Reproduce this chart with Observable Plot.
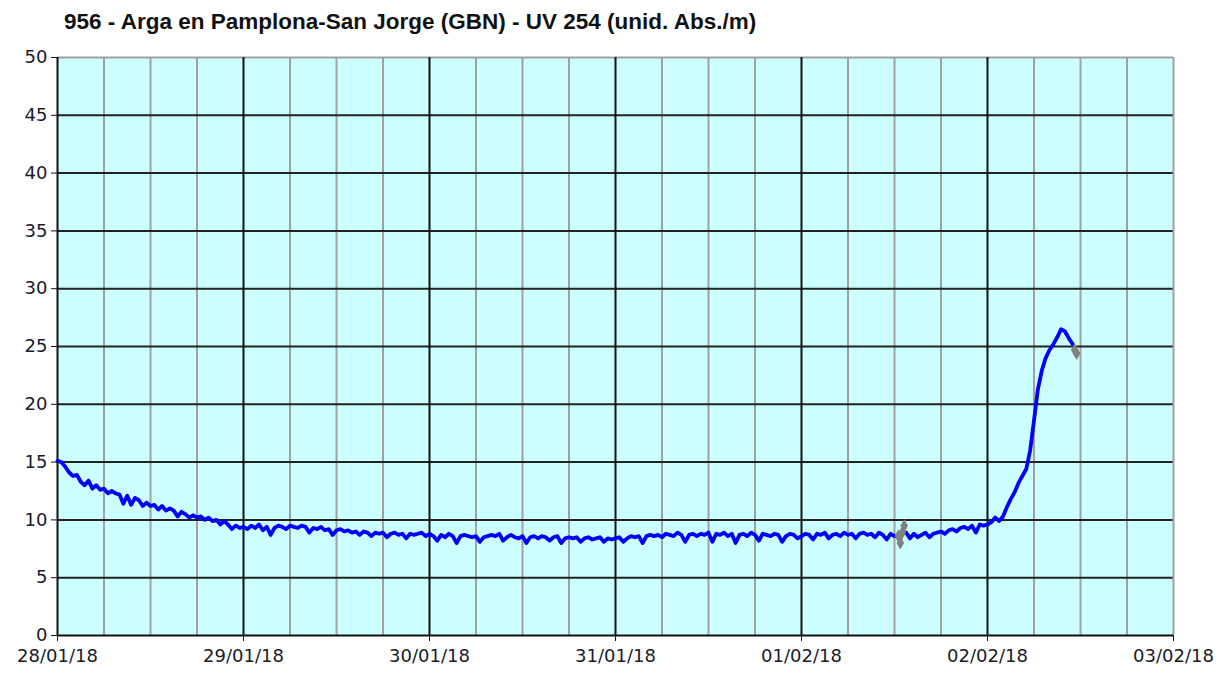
<!DOCTYPE html>
<html>
<head>
<meta charset="utf-8">
<script src="https://cdn.jsdelivr.net/npm/d3@7"></script>
<script src="https://cdn.jsdelivr.net/npm/@observablehq/plot@0.6"></script>
<style>
  html, body { margin: 0; padding: 0; background: #fff; }
  #title { height: 44px; line-height: 44px; padding-left: 64px; font-family: "Liberation Sans", Arial, sans-serif; font-weight: bold; font-size: 22.5px; color: #111; white-space: nowrap; }
</style>
</head>
<body>
<div id="title">956 - Arga en Pamplona-San Jorge (GBN) - UV 254 (unid. Abs./m)</div>
<div id="chart"></div>
<script>
// Values every 30 minutes, starting 28/01/18 00:00 (null = no valid reading)
const day28 = [15.1, 15.0, 14.6, 14.1, 13.8, 13.9, 13.3, 13.0, 13.4, 12.7, 13.0, 12.6, 12.7, 12.3, 12.5, 12.3,
  12.2, 11.4, 12.1, 11.3, 11.9, 11.7, 11.2, 11.5, 11.2, 11.3, 10.9, 11.2, 10.8, 11.0, 10.8, 10.3,
  10.7, 10.5, 10.2, 10.4, 10.2, 10.3, 10.0, 10.2, 9.9, 10.0, 9.6, 9.9, 9.6, 9.2, 9.5, 9.3];
const day29 = [9.4, 9.2, 9.5, 9.3, 9.6, 9.1, 9.4, 8.7, 9.3, 9.5, 9.4, 9.2, 9.5, 9.4, 9.3, 9.5,
  9.4, 8.9, 9.3, 9.2, 9.4, 9.1, 9.2, 8.7, 9.1, 9.2, 9.0, 9.1, 8.9, 9.0, 8.7, 9.0,
  8.9, 8.6, 8.9, 8.8, 8.9, 8.5, 8.8, 8.9, 8.7, 8.8, 8.4, 8.8, 8.7, 8.8, 8.9, 8.6];
const day30 = [8.8, 8.6, 8.2, 8.7, 8.5, 8.8, 8.6, 8.0, 8.6, 8.7, 8.6, 8.5, 8.6, 8.1, 8.5, 8.6,
  8.7, 8.6, 8.8, 8.2, 8.5, 8.7, 8.5, 8.4, 8.6, 8.0, 8.5, 8.6, 8.4, 8.6, 8.5, 8.2,
  8.5, 8.6, 8.0, 8.4, 8.5, 8.4, 8.5, 8.1, 8.4, 8.5, 8.3, 8.4, 8.5, 8.1, 8.4, 8.3];
const day31 = [8.4, 8.5, 8.1, 8.4, 8.6, 8.5, 8.6, 8.0, 8.6, 8.7, 8.6, 8.7, 8.5, 8.8, 8.7, 8.6,
  8.9, 8.7, 8.1, 8.7, 8.8, 8.6, 8.8, 8.7, 8.9, 8.1, 8.8, 8.7, 8.9, 8.6, 8.8, 8.0,
  8.7, 8.8, 8.6, 8.9, 8.7, 8.2, 8.8, 8.7, 8.6, 8.8, 8.7, 8.1, 8.6, 8.8, 8.7, 8.4];
const day01 = [8.6, 8.8, 8.7, 8.3, 8.8, 8.7, 8.9, 8.4, 8.7, 8.8, 8.6, 8.9, 8.7, 8.8, 8.4, 8.8,
  8.9, 8.7, 8.8, 8.5, 8.9, 8.7, 8.3, 8.8, 8.6, 8.6, null, 8.9, 8.4, 8.8, 8.5, 8.7,
  8.9, 8.5, 8.8, 8.9, 9.0, 8.8, 9.1, 9.2, 9.0, 9.3, 9.4, 9.2, 9.5, 8.9, 9.6, 9.5];
const day02 = [9.6, 9.8, 10.2, 9.9, 10.3, 11.1, 11.8, 12.4, 13.2, 13.8, 14.4, 16.0, 18.6, 21.3, 22.9, 24.0,
  24.7, 25.2, 25.8, 26.5, 26.3, 25.7, 25.2];

// Readings flagged (grey markers)
const flaggedTimes = ["2018-02-01T12:30Z", "2018-02-01T12:45Z", "2018-02-01T13:00Z", "2018-02-01T13:15Z",
  "2018-02-02T11:15Z", "2018-02-02T11:30Z"];
const flaggedValues = [8.6, 8.0, 8.9, 9.5, 24.7, 24.4];
const flaggedGroup = [1, 1, 1, 1, 2, 2];

const dayTicks = ["2018-01-28", "2018-01-29", "2018-01-30", "2018-01-31", "2018-02-01", "2018-02-02", "2018-02-03"];
const yTicks = [0, 5, 10, 15, 20, 25, 30, 35, 40, 45, 50];

const start = Date.UTC(2018, 0, 28);
const values = [...day28, ...day29, ...day30, ...day31, ...day01, ...day02];
const series = values.map((v, i) => ({t: new Date(start + i * 30 * 60000), v}));
const flagged = flaggedTimes.map((t, i) => ({t: new Date(t), v: flaggedValues[i], g: flaggedGroup[i]}));

const days = dayTicks.map(d => new Date(d + "T00:00Z"));
const minor = [];
for (let i = 0; i < days.length - 1; i++) for (let h of [6, 12, 18]) minor.push(new Date(+days[i] + h * 3600000));

const H = 675 - 44;
const chart = Plot.plot({
  width: 1232,
  height: H,
  marginLeft: 57,
  marginRight: 59,
  marginTop: 13,
  marginBottom: H - 13 - 578,
  style: {fontFamily: "'DejaVu Sans', Verdana, sans-serif", fontSize: "18px", color: "#1a1a2a", background: "#fff"},
  x: {type: "utc", domain: [days[0], days[days.length - 1]], label: null},
  y: {domain: [0, 50], label: null},
  marks: [
    Plot.frame({fill: "#CCFFFF", stroke: null}),
    Plot.ruleX(minor, {stroke: "#a0a0a0", strokeWidth: 2}),
    Plot.ruleY(yTicks.filter(d => d > 0 && d < 50), {stroke: "#222", strokeWidth: 2}),
    Plot.ruleY([50], {stroke: "#a0a0a0", strokeWidth: 2}),
    Plot.ruleX(days.slice(1, -1), {stroke: "#111", strokeWidth: 2}),
    Plot.ruleX([days[days.length - 1]], {stroke: "#a0a0a0", strokeWidth: 2}),
    Plot.ruleX([days[0]], {stroke: "#111", strokeWidth: 2}),
    Plot.ruleY([0], {stroke: "#111", strokeWidth: 2}),
    Plot.line(series, {x: "t", y: "v", stroke: "#0000FF", strokeWidth: 3.8}),
    Plot.line(flagged, {x: "t", y: "v", z: "g", stroke: "#808080", strokeWidth: 3.2}),
    Plot.dot(flagged, {x: "t", y: "v", symbol: "diamond", r: 4, fill: "#808080", stroke: null}),
    Plot.axisX(days, {label: null, tickFormat: d3.utcFormat("%d/%m/%y"), tickSize: 6, tickPadding: 8, stroke: "#111", fill: "#1a1a2a", fontSize: 18, letterSpacing: "1.1px"}),
    Plot.axisY(yTicks, {label: null, tickSize: 6, tickPadding: 4, stroke: "#111", fill: "#1a1a2a", fontSize: 18})
  ]
});
document.getElementById("chart").appendChild(chart);
</script>
</body>
</html>
